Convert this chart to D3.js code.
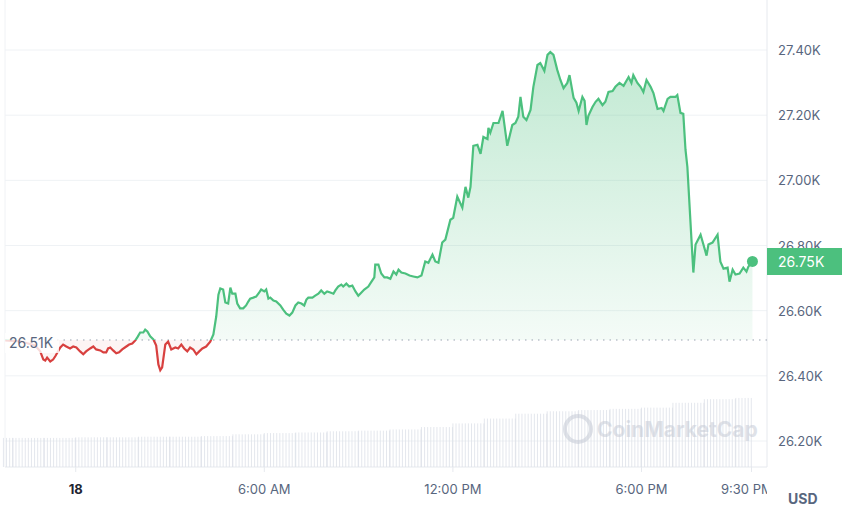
<!DOCTYPE html>
<html><head><meta charset="utf-8">
<script src="https://cdn.jsdelivr.net/npm/d3@7"></script>
<style>body{margin:0;background:#fff;font-family:Inter,"Noto Sans",sans-serif}</style>
</head><body><svg id="c" width="850" height="512"></svg>
<script>
// hours since midnight (18th), price USD
const priceHours = [-2.24,-1.77,-1.29,-1.13,-1.03,-0.97,-0.91,-0.81,-0.72,-0.65,-0.49,-0.40,-0.30,-0.18,-0.08,0.02,0.14,0.24,0.33,0.46,0.56,0.65,0.78,0.88,0.97,1.03,1.10,1.19,1.29,1.38,1.48,1.61,1.70,1.80,1.89,1.96,2.05,2.15,2.21,2.28,2.37,2.47,2.56,2.63,2.69,2.75,2.85,2.94,3.04,3.17,3.26,3.36,3.45,3.55,3.64,3.74,3.84,3.93,4.03,4.15,4.28,4.38,4.47,4.54,4.60,4.69,4.76,4.85,4.92,4.98,5.08,5.14,5.23,5.33,5.42,5.49,5.55,5.65,5.74,5.84,5.90,6.00,6.06,6.13,6.19,6.29,6.38,6.51,6.60,6.70,6.80,6.89,6.99,7.08,7.18,7.27,7.34,7.40,7.53,7.62,7.72,7.81,7.91,8.00,8.10,8.20,8.26,8.35,8.45,8.51,8.61,8.70,8.80,8.90,8.99,9.09,9.18,9.31,9.41,9.50,9.53,9.63,9.72,9.82,9.91,10.01,10.11,10.20,10.27,10.36,10.49,10.62,10.74,10.87,11.00,11.12,11.22,11.35,11.44,11.54,11.66,11.76,11.92,12.01,12.14,12.30,12.40,12.49,12.56,12.65,12.78,12.88,12.97,13.10,13.13,13.19,13.29,13.45,13.58,13.73,13.89,13.99,14.08,14.15,14.24,14.34,14.47,14.56,14.69,14.78,14.91,15.01,15.10,15.20,15.32,15.42,15.52,15.64,15.71,15.84,15.93,16.00,16.12,16.19,16.25,16.31,16.44,16.54,16.63,16.76,16.85,16.95,17.08,17.17,17.30,17.43,17.59,17.68,17.74,17.87,17.97,18.06,18.16,18.29,18.38,18.51,18.64,18.70,18.83,18.92,19.08,19.14,19.24,19.33,19.40,19.46,19.59,19.65,19.72,19.88,19.97,20.07,20.13,20.26,20.42,20.51,20.61,20.74,20.80,20.90,20.99,21.12,21.24,21.34,21.40,21.53];
const prices = [26509,26506,26493,26475,26450,26447,26456,26444,26450,26460,26487,26496,26490,26484,26490,26487,26475,26466,26475,26484,26490,26481,26478,26472,26472,26484,26487,26478,26469,26472,26481,26490,26496,26499,26508,26518,26533,26533,26542,26536,26521,26512,26493,26435,26417,26426,26496,26505,26481,26487,26484,26496,26484,26475,26487,26481,26466,26475,26484,26490,26505,26527,26582,26649,26668,26665,26625,26622,26671,26652,26652,26622,26607,26607,26616,26628,26637,26640,26643,26656,26665,26659,26665,26637,26640,26631,26628,26616,26603,26591,26585,26594,26616,26625,26622,26616,26634,26640,26640,26646,26652,26662,26652,26659,26656,26652,26662,26674,26680,26674,26683,26674,26677,26659,26646,26656,26665,26674,26689,26702,26741,26741,26714,26702,26702,26698,26720,26711,26726,26717,26714,26708,26705,26702,26708,26751,26747,26772,26751,26747,26809,26818,26879,26885,26950,26916,26980,26947,26980,27106,27109,27081,27133,27127,27161,27146,27176,27176,27213,27106,27170,27176,27195,27256,27195,27185,27216,27287,27354,27360,27336,27385,27394,27385,27339,27308,27283,27299,27323,27253,27238,27213,27256,27244,27170,27198,27225,27241,27250,27231,27241,27271,27274,27287,27299,27290,27317,27299,27323,27299,27287,27271,27308,27287,27268,27219,27222,27213,27250,27256,27256,27262,27207,27204,27094,27041,26818,26717,26803,26833,26803,26769,26803,26809,26833,26750,26729,26732,26689,26726,26711,26714,26732,26720,26735,26751];
const volumeHours = [-2.3,-2,-1,0,1,2,3,4,5,6,7,8,9,10,11,12,13,14,15,16,17,18,19,20,21];
const volumes = [10.8,10.8,10.8,10.9,10.9,11.0,11.0,11.1,11.4,11.6,11.7,11.9,12.0,12.2,12.6,13.2,14.0,14.8,15.2,15.4,15.6,15.8,16.6,17.2,17.4]; // billions USD
const priceTicks = [26200,26400,26600,26800,27000,27200,27400];
const timeTicks = [0,6,12,18,21.5];
const timeLabels = ["18","6:00 AM","12:00 PM","6:00 PM","9:30 PM"];
const openPrice = 26510, lastPrice = 26750;

const svg = d3.select("#c");
const L=5, R=767, B=467, T=0;
const x = d3.scaleLinear().domain([-2.25, 21.5]).range([L, 751.5]);
const y = d3.scaleLinear().domain([26200, 27400]).range([441, 50]);
const yv = d3.scaleLinear().domain([6, 24]).range([B, B-109]);
const green="#4cc07e", red="#d8403f", grid="#eff2f5", txt="#58667e";

svg.append("g").selectAll("line").data(priceTicks).join("line")
 .attr("x1",L).attr("x2",R).attr("y1",d=>y(d)).attr("y2",d=>y(d)).attr("stroke",grid);
svg.append("line").attr("x1",R).attr("x2",R).attr("y1",T).attr("y2",B).attr("stroke","#e6e9ee");
svg.append("line").attr("x1",L).attr("x2",L).attr("y1",T).attr("y2",B).attr("stroke","#f0f2f5");
svg.append("line").attr("x1",L).attr("x2",R).attr("y1",B).attr("y2",B).attr("stroke","#e6e9ee");

const vb=[];
for(let i=0;i<volumeHours.length;i++){
  const h0=volumeHours[i], h1=i+1<volumeHours.length?volumeHours[i+1]:21.55;
  for(let px=x(h0); px<x(h1); px+=3.1) vb.push({px, v:volumes[i]});
}
svg.append("g").selectAll("line").data(vb).join("line")
 .attr("x1",d=>d.px).attr("x2",d=>d.px).attr("y1",B).attr("y2",d=>yv(d.v))
 .attr("stroke","#dde1e8").attr("stroke-width",0.8);

const wm=svg.append("g").attr("opacity",0.55);
wm.append("circle").attr("cx",578).attr("cy",429).attr("r",13).attr("fill","none").attr("stroke","#c6cbd6").attr("stroke-width",4);
wm.append("text").attr("x",597).attr("y",437).attr("font-size",21).attr("font-weight",700).attr("fill","#c6cbd6").text("CoinMarketCap");

const data = priceHours.map((h,i)=>({h,p:prices[i]}));
const defs=svg.append("defs");
const gg=defs.append("linearGradient").attr("id","gg").attr("x1",0).attr("x2",0).attr("y1",0).attr("y2",1);
gg.append("stop").attr("offset","0%").attr("stop-color",green).attr("stop-opacity",0.35);
gg.append("stop").attr("offset","100%").attr("stop-color",green).attr("stop-opacity",0.03);
const by=y(openPrice);
defs.append("clipPath").attr("id","above").append("rect").attr("x",0).attr("y",0).attr("width",850).attr("height",by);
defs.append("clipPath").attr("id","below").append("rect").attr("x",0).attr("y",by).attr("width",850).attr("height",512-by);
defs.append("clipPath").attr("id","plot").append("rect").attr("x",0).attr("y",0).attr("width",R).attr("height",512);
const area=d3.area().x(d=>x(d.h)).y0(by).y1(d=>y(d.p));
const line=d3.line().x(d=>x(d.h)).y(d=>y(d.p));
svg.append("path").datum(data).attr("d",area).attr("fill","url(#gg)").attr("clip-path","url(#above)");
svg.append("path").datum(data).attr("d",area).attr("fill",red).attr("opacity",0.06).attr("clip-path","url(#below)");
svg.append("line").attr("x1",L).attr("x2",R).attr("y1",by).attr("y2",by).attr("stroke","#9aa3b2").attr("stroke-dasharray","1.5,5");
svg.append("path").datum(data).attr("d",line).attr("fill","none").attr("stroke",green).attr("stroke-width",2.2).attr("clip-path","url(#above)");
svg.append("path").datum(data).attr("d",line).attr("fill","none").attr("stroke",red).attr("stroke-width",2.2).attr("clip-path","url(#below)");
const last=data[data.length-1];
svg.append("circle").attr("cx",x(last.h)).attr("cy",y(last.p)).attr("r",5.5).attr("fill",green);

svg.append("rect").attr("x",5).attr("y",333).attr("width",54).attr("height",20).attr("fill","#fff").attr("opacity",0.8);
svg.append("text").attr("x",9).attr("y",348).attr("font-size",14).attr("fill",txt).text((openPrice/1000).toFixed(2)+"K");

svg.append("g").selectAll("text").data(priceTicks).join("text")
 .attr("x",778).attr("y",d=>y(d)+5).attr("font-size",13).attr("fill",txt).text(d=>(d/1000).toFixed(2)+"K");
svg.append("rect").attr("x",767).attr("y",248).attr("width",75).attr("height",27).attr("fill",green);
svg.append("text").attr("x",778).attr("y",267).attr("font-size",14).attr("fill","#fff").text((lastPrice/1000).toFixed(2)+"K");

svg.append("g").selectAll("line").data(timeTicks).join("line")
 .attr("x1",d=>x(d)).attr("x2",d=>x(d)).attr("y1",B).attr("y2",B+5).attr("stroke","#e6e9ee");
svg.append("g").attr("clip-path","url(#plot)").selectAll("text").data(timeTicks).join("text")
 .attr("x",(d,i)=>i==4?721:x(d)).attr("y",494).attr("text-anchor",(d,i)=>i==4?"start":"middle")
 .attr("font-size",13).attr("font-weight",(d,i)=>i==0?700:400).attr("fill",(d,i)=>i==0?"#222531":txt)
 .text((d,i)=>timeLabels[i]);
svg.append("text").attr("x",788).attr("y",504).attr("font-size",14).attr("font-weight",700).attr("fill",txt).text("USD");
</script></body></html>
